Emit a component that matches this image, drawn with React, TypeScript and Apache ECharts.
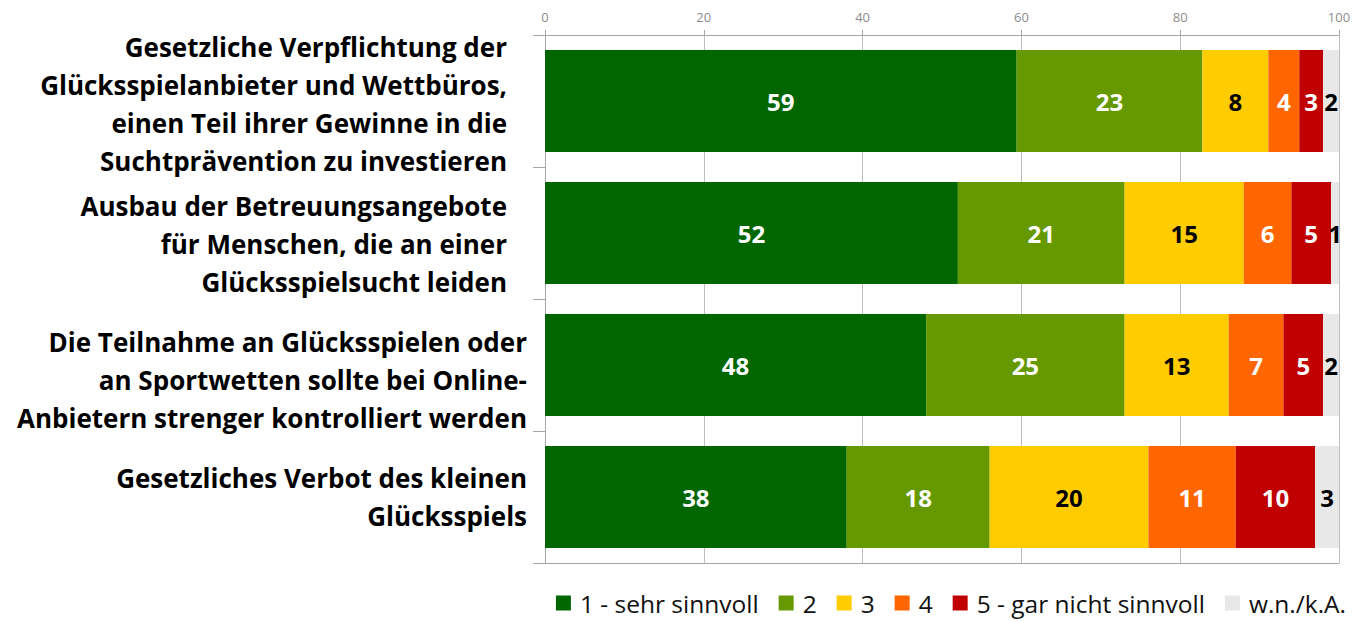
import React, { useEffect, useRef } from "react";
import * as echarts from "echarts";

const categories = [
  "Gesetzliche Verpflichtung der\nGlücksspielanbieter und Wettbüros,\neinen Teil ihrer Gewinne in die\nSuchtprävention zu investieren",
  "Ausbau der Betreuungsangebote\nfür Menschen, die an einer\nGlücksspielsucht leiden",
  "Die Teilnahme an Glücksspielen oder\nan Sportwetten sollte bei Online-\nAnbietern strenger kontrolliert werden",
  "Gesetzliches Verbot des kleinen\nGlücksspiels",
];

const seriesNames = ["1 - sehr sinnvoll", "2", "3", "4", "5 - gar nicht sinnvoll", "w.n./k.A."];
const s1 = [59.4, 52, 48, 38];
const s2 = [23.4, 21, 25, 18];
const s3 = [8.3, 15, 13.1, 20];
const s4 = [3.9, 6, 6.9, 11];
const s5 = [3.0, 5, 5, 10];
const s6 = [2.0, 1, 2, 3];
const seriesValues = [s1, s2, s3, s4, s5, s6];
const colors = ["#006600", "#669900", "#FFCC00", "#FF6600", "#C00000", "#E8E8E8"];
const labelColors = ["#FFFFFF", "#FFFFFF", "#000000", "#FFFFFF", "#FFFFFF", "#000000"];
const xTicks = { min: 0, max: 100, interval: 20 };

const FONT = "'Open Sans', sans-serif";
// per-category layout tweaks (right padding, extra top space)
const labelRightPad = [20, 20, 0, 0];
const labelTopSpace = [6, 22, 30, 0];

export default function App() {
  const ref = useRef<HTMLDivElement>(null);
  useEffect(() => {
    if (!ref.current) return;
    const chart = echarts.init(ref.current, null, { renderer: "svg" });
    const gray = "#A6A6A6";
    const rich: any = {};
    const base = { fontFamily: FONT, fontWeight: "bold", fontSize: 26, lineHeight: 38, color: "#000" };
    rich.b0 = { ...base, padding: [0, 20, 0, 0] };
    rich.b1 = { ...base, padding: [0, 0, 0, 0] };
    labelTopSpace.forEach((h, i) => {
      rich["sp" + i] = { fontSize: 1, lineHeight: Math.max(h, 1), height: Math.max(h, 1) };
    });
    chart.setOption({
      animation: false,
      color: colors,
      grid: { left: 545, right: 16, top: 35, height: 528 },
      legend: {
        data: seriesNames,
        right: 4,
        top: 583,
        icon: "rect",
        itemWidth: 15,
        itemHeight: 15,
        itemGap: 20,
        textStyle: { fontFamily: FONT, fontSize: 24.5, lineHeight: 30, color: "#111", padding: [0, 0, 0, 4] },
      },
      xAxis: [
        {
          type: "value",
          position: "top",
          min: xTicks.min,
          max: xTicks.max,
          interval: xTicks.interval,
          axisLine: { show: true, lineStyle: { color: gray } },
          axisTick: { show: true, length: 5, lineStyle: { color: gray } },
          splitLine: { show: true, lineStyle: { color: "#BFBFBF" } },
          axisLabel: { color: "#8C8C8C", fontSize: 13, fontFamily: FONT, margin: 12 },
        },
        {
          type: "value",
          position: "bottom",
          min: xTicks.min,
          max: xTicks.max,
          interval: xTicks.interval,
          axisLine: { show: true, lineStyle: { color: gray } },
          axisTick: { show: false },
          splitLine: { show: false },
          axisLabel: { show: false },
        },
      ],
      yAxis: {
        type: "category",
        inverse: true,
        data: categories,
        axisLine: { show: true, lineStyle: { color: gray } },
        axisTick: { show: true, length: 12, lineStyle: { color: gray } },
        axisLabel: {
          interval: 0,
          color: "#000",
          fontFamily: FONT,
          fontWeight: "bold",
          fontSize: 26,
          lineHeight: 38,
          margin: 18,
          align: "right",
          rich,
          formatter: (value: string, index: number) => {
            const key = labelRightPad[index] > 0 ? "b0" : "b1";
            const lines = value.split("\n").map((l) => `{${key}|${l}}`);
            const sp = labelTopSpace[index] > 0 ? `{sp${index}| }\n` : "";
            return sp + lines.join("\n");
          },
        },
      },
      series: seriesValues.map((vals, i) => ({
        name: seriesNames[i],
        type: "bar",
        stack: "total",
        xAxisIndex: 0,
        barWidth: 102,
        data: vals,
        itemStyle: { color: colors[i] },
        label: {
          show: true,
          position: "inside",
          formatter: (p: any) => String(Math.round(p.value)),
          color: labelColors[i],
          fontFamily: FONT,
          fontWeight: "bold",
          fontSize: 24,
        },
      })),
    });
    return () => chart.dispose();
  }, []);
  return (
    <div
      ref={ref}
      style={{ position: "absolute", left: 0, top: 0, width: 1355, height: 621 }}
    />
  );
}
